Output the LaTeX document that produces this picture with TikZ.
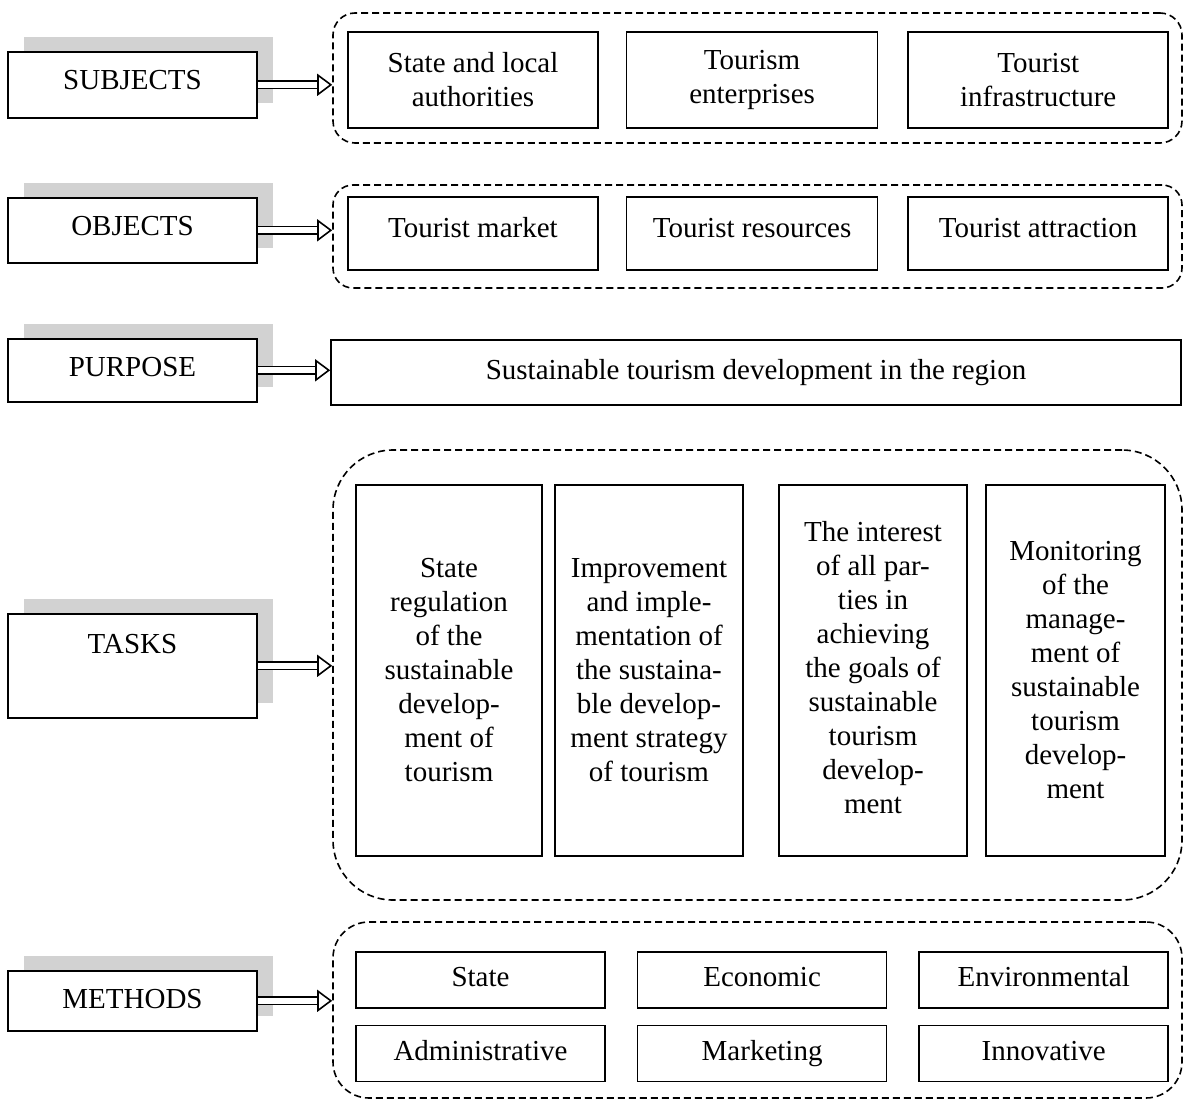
\documentclass[tikz,border=0pt]{standalone}
\usepackage{fontspec}
\setmainfont{Liberation Serif}
\usetikzlibrary{arrows.meta,positioning,shadows}
\tikzstyle{leftbox}=[draw,fill=white,line width=1.6pt,minimum width=249pt,inner ysep=0pt,text height=38pt,anchor=north,
    general shadow={fill=gray!35,shadow xshift=16pt,shadow yshift=15pt}]
\tikzstyle{grp}=[draw,line width=1.6pt,dash pattern=on 7pt off 4pt,inner sep=0pt]
\tikzstyle{box}=[draw,line width=1.6pt,align=center,inner sep=0pt]
\tikzstyle{onebox}=[box,text height=20pt,text depth=7pt]
\tikzstyle{dblarrow}=[double,double distance=6pt,line width=1.6pt,-{Triangle[open,length=15pt,width=22pt]}]

\begin{document}
\begin{tikzpicture}[x=1pt,y=-1pt,font=\fontsize{29}{34}\selectfont]
    \useasboundingbox (0,0) rectangle (1187,1100);

    % left column
    \node[leftbox,text depth=28pt] (subj) at (132.5,51)  {SUBJECTS};
    \node[leftbox,text depth=27pt] (obj)  at (132.5,197) {OBJECTS};
    \node[leftbox,text depth=25pt] (purp) at (132.5,338) {PURPOSE};
    \node[leftbox,text height=40pt,text depth=64pt] (task) at (132.5,613) {TASKS};
    \node[leftbox,text depth=22pt] (meth) at (132.5,970) {METHODS};

    % subjects
    \node[grp,minimum width=849pt,minimum height=130pt,rounded corners=22pt] (subjgrp) at (757.5,78) {};
    \node[box,minimum width=250pt,minimum height=96pt] (s1) at (473,80) {State and local\\authorities};
    \node[box,minimum width=251pt,minimum height=96pt,right=27pt of s1] (s2) {Tourism\\enterprises};
    \node[box,minimum width=260pt,minimum height=96pt,right=29pt of s2] (s3) {Tourist\\infrastructure};

    % objects
    \node[grp,minimum width=849pt,minimum height=103pt,rounded corners=20pt] (objgrp) at (757.5,236.5) {};
    \node[onebox,minimum width=250pt,minimum height=73pt,text depth=13pt] (o1) at (473,233.5) {Tourist market};
    \node[onebox,minimum width=251pt,minimum height=73pt,text depth=13pt,right=27pt of o1] (o2) {Tourist resources};
    \node[onebox,minimum width=260pt,minimum height=73pt,text depth=13pt,right=29pt of o2] (o3) {Tourist attraction};

    % purpose
    \node[onebox,minimum width=850pt,minimum height=65pt] (goal) at (756,372.5) {Sustainable tourism development in the region};

    % tasks
    \node[grp,minimum width=849pt,minimum height=450pt,rounded corners=60pt] (taskgrp) at (757.5,675) {};
    \node[box,minimum width=186pt,minimum height=371pt] (t1) at (449,670.5)
        {State\\regulation\\of the\\sustainable\\develop-\\ment of\\tourism};
    \node[box,minimum width=188pt,minimum height=371pt] (t2) at (649,670.5)
        {Improvement\\and imple-\\mentation of\\the sustaina-\\ble develop-\\ment strategy\\of tourism};
    \node[box,minimum width=188pt,minimum height=371pt] (t3) at (873,670.5)
        {\raisebox{20pt}{\begin{tabular}{@{}c@{}}The interest\\of all par-\\ties in\\achieving\\the goals of\\sustainable\\tourism\\develop-\\ment\end{tabular}}};
    \node[box,minimum width=179pt,minimum height=371pt] (t4) at (1075.5,670.5)
        {Monitoring\\of the\\manage-\\ment of\\sustainable\\tourism\\develop-\\ment};

    % methods
    \node[grp,minimum width=849pt,minimum height=176pt,rounded corners=36pt] (methgrp) at (757.5,1010) {};
    \node[onebox,minimum width=249pt,minimum height=56pt] (m1) at (480.5,980) {State};
    \node[onebox,minimum width=249pt,minimum height=56pt,right=31pt of m1] (m2) {Economic};
    \node[onebox,minimum width=249pt,minimum height=56pt,right=31pt of m2] (m3) {Environmental};
    \node[onebox,minimum width=249pt,minimum height=56pt,below=16pt of m1] (m4) {Administrative};
    \node[onebox,minimum width=249pt,minimum height=56pt,below=16pt of m2] (m5) {Marketing};
    \node[onebox,minimum width=249pt,minimum height=56pt,below=16pt of m3] (m6) {Innovative};

    % arrows
    \draw[dblarrow] (subj.east) -- (subj.east -| subjgrp.west);
    \draw[dblarrow] (obj.east) -- (obj.east -| objgrp.west);
    \draw[dblarrow] (purp.east) -- (purp.east -| goal.west);
    \draw[dblarrow] (task.east) -- (task.east -| taskgrp.west);
    \draw[dblarrow] (meth.east) -- (meth.east -| methgrp.west);
\end{tikzpicture}
\end{document}
